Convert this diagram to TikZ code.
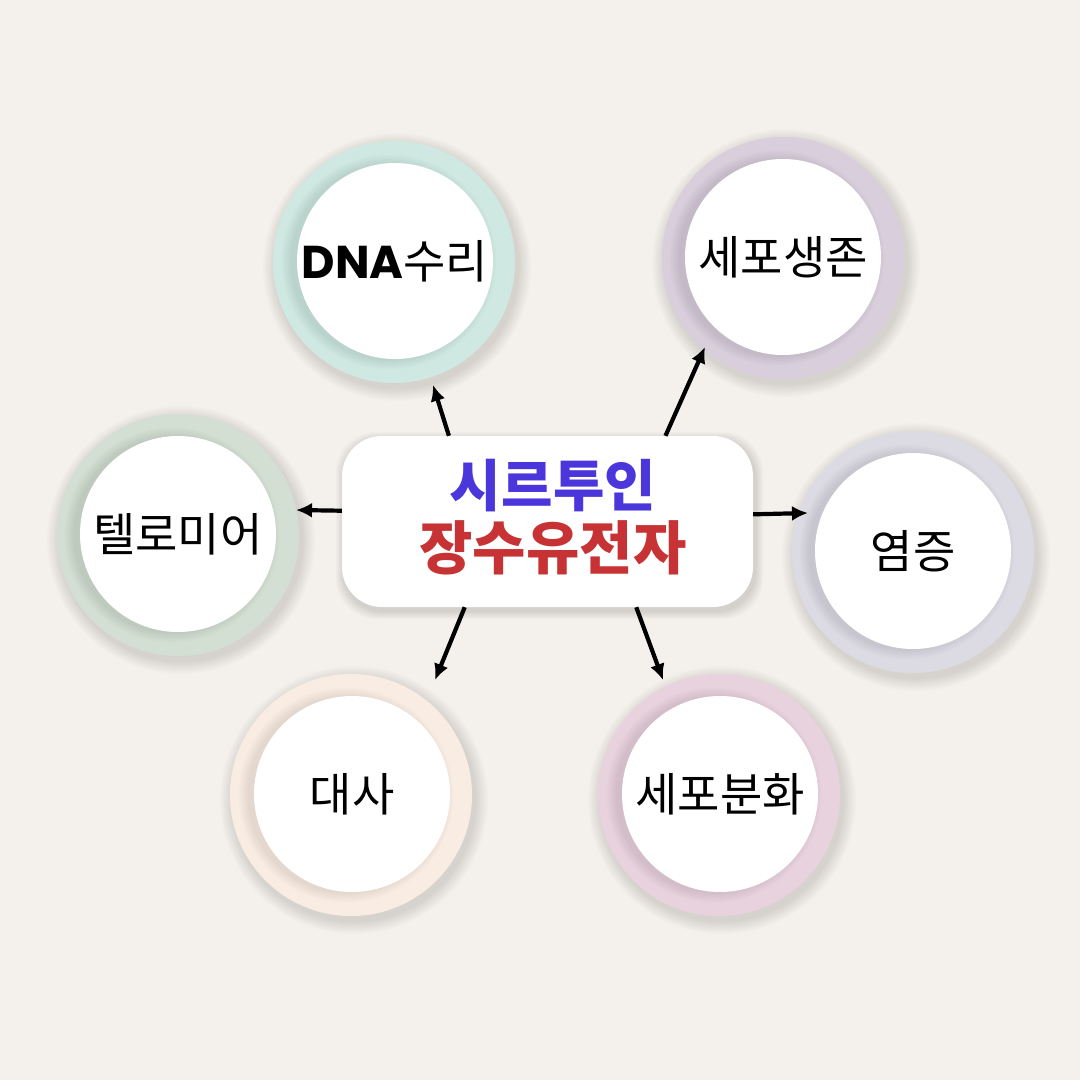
\documentclass[tikz,border=0pt]{standalone}
\usepackage{fontspec}
\setmainfont{Noto Sans CJK KR}
\newfontfamily\dnafont{Poppins}
\usepackage{tikz}
\usetikzlibrary{arrows.meta}
\definecolor{BgCream}{HTML}{F4F1EC}
\definecolor{MintRing}{HTML}{CFE8E1}
\definecolor{LilacRing}{HTML}{D8CEDC}
\definecolor{SageRing}{HTML}{D4DFD4}
\definecolor{MistRing}{HTML}{DCDBE4}
\definecolor{PeachRing}{HTML}{F8ECE3}
\definecolor{PinkRing}{HTML}{E8D2DE}
\definecolor{SirtBlue}{HTML}{4B36DC}
\definecolor{GeneRed}{HTML}{C73234}

\begin{document}
\begin{tikzpicture}[x=1pt,y=-1pt,
    ring/.style={circle,minimum size=242pt,inner sep=0pt,fill=#1},
    core/.style={circle,minimum size=196pt,inner sep=0pt,fill=white,font=\fontsize{46}{50}\selectfont},
    hubbox/.style={rounded corners=40pt,fill=white,minimum width=411pt,minimum height=171pt,inner sep=0pt,align=center},
    link/.style={-{Latex[length=16pt,width=15pt]},line width=4.2pt,black}]
    \fill[BgCream] (0,0) rectangle (1080,1080);
    \useasboundingbox (0,0) rectangle (1080,1080);
    % soft shadows under the rings and the hub
    \foreach \cx/\cy in {394/262,783/258,178/535,913/552,351/795,719/795}{
      \foreach \k in {1,...,10}
        \fill[black,opacity=0.012] (\cx+3,\cy+5) circle[radius=121pt+\k*1.3pt];
    }
    \foreach \k in {1,...,8}
      \fill[black,opacity=0.014,rounded corners=40pt] (344-\k,440-\k) rectangle (755+\k,611+\k);
    % rings
    \node[ring=MintRing] (dnaRing) at (394,262) {};
    \node[ring=LilacRing] (survRing) at (783,258) {};
    \node[ring=SageRing] (teloRing) at (178,535) {};
    \node[ring=MistRing] (inflRing) at (913,552) {};
    \node[ring=PeachRing] (metaRing) at (351,795) {};
    \node[ring=PinkRing] (diffRing) at (719,795) {};
    \foreach \cx/\cy in {395/261,783/257,178/534,913/551,352/794,720/794}{
      \foreach \k in {1,...,7}
        \fill[black,opacity=0.01] (\cx-6,\cy+1) circle[radius=97pt+\k*1.5pt];
    }
    % white cores with labels
    \node[core] (dna) at (395,261) {{\dnafont\bfseries DNA}수리};
    \node[core] (surv) at (783,257) {세포생존};
    \node[core] (telo) at (178,534) {텔로미어};
    \node[core] (infl) at (913,551) {염증};
    \node[core] (meta) at (352,794) {대사};
    \node[core] (diff) at (720,794) {세포분화};
    % hub
    \node[hubbox] (hub) at (547.5,521.5) {};
    \node[align=center,inner sep=0pt] (hubText) at (553,517) {\bfseries\color{SirtBlue}\fontsize{56}{64}\selectfont 시르투인\\[7pt] \bfseries\color{GeneRed}\fontsize{58}{64}\selectfont 장수유전자};
    % arrow tips
    \coordinate (dnaTip) at (433,385);
    \coordinate (survTip) at (705,347);
    \coordinate (teloTip) at (296,510);
    \coordinate (inflTip) at (808,513);
    \coordinate (metaTip) at (435,680);
    \coordinate (diffTip) at (663,680);
    \draw[link] (hub.139) -- (dnaTip);
    \draw[link] (hub.36) -- (survTip);
    \draw[link] (hub.177.1) -- (teloTip);
    \draw[link] (hub.2.4) -- (inflTip);
    \draw[link] (hub.226.9) -- (metaTip);
    \draw[link] (hub.316.5) -- (diffTip);
\end{tikzpicture}
\end{document}
